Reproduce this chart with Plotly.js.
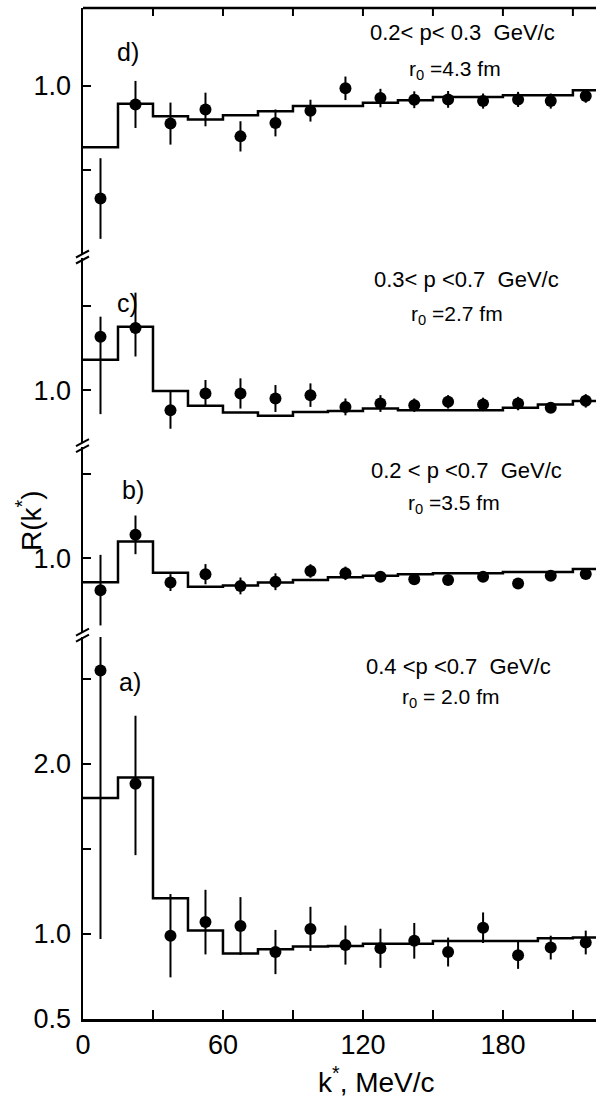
<!DOCTYPE html>
<html>
<head>
<meta charset="utf-8">
<script src="https://cdn.plot.ly/plotly-3.0.1.min.js"></script>
<style>html,body{margin:0;padding:0;background:#fff;}#chart{width:596px;height:1099px;}</style>
</head>
<body>
<div id="chart"></div>
<script>
// ---- data ----
const kCenters = [7.5, 22.5, 37.5, 52.5, 67.5, 82.5, 97.5, 112.5, 127.5, 142, 156.5, 171.5, 186.5, 200.5, 215.5];
const binEdges = [0, 15, 30, 45, 60, 75, 90, 105, 120, 135, 150, 165, 180, 195, 210, 225];

// panel a) 0.4<p<0.7 GeV/c, r0 = 2.0 fm
const histA = [1.80, 1.92, 1.21, 1.02, 0.886, 0.91, 0.926, 0.93, 0.943, 0.943, 0.959, 0.959, 0.959, 0.975, 0.98];
const ptsA  = [2.55, 1.884, 0.99, 1.07, 1.047, 0.894, 1.03, 0.935, 0.916, 0.96, 0.894, 1.037, 0.875, 0.92, 0.95];
const errA_up   = [0.20, 0.40, 0.245, 0.19, 0.17, 0.13, 0.13, 0.115, 0.115, 0.105, 0.085, 0.09, 0.08, 0.07, 0.07];
const errA_down = [1.58, 0.42, 0.245, 0.19, 0.17, 0.13, 0.13, 0.115, 0.115, 0.105, 0.085, 0.09, 0.08, 0.07, 0.07];

// panel b) 0.2<p<0.7 GeV/c, r0 = 3.5 fm
const histB = [0.857, 1.10, 0.914, 0.83, 0.837, 0.855, 0.871, 0.887, 0.896, 0.905, 0.91, 0.91, 0.918, 0.918, 0.936];
const ptsB  = [0.81, 1.139, 0.855, 0.905, 0.835, 0.86, 0.924, 0.91, 0.89, 0.875, 0.87, 0.89, 0.85, 0.895, 0.906];
const errB  = [0.21, 0.115, 0.05, 0.06, 0.05, 0.05, 0.04, 0.04, 0.03, 0.03, 0.02, 0.02, 0.0, 0.02, 0.02];

// panel c) 0.3<p<0.7 GeV/c, r0 = 2.7 fm
const histC = [1.18, 1.377, 0.994, 0.907, 0.867, 0.847, 0.87, 0.875, 0.89, 0.88, 0.88, 0.88, 0.895, 0.915, 0.935];
const ptsC  = [1.317, 1.37, 0.88, 0.98, 0.98, 0.95, 0.97, 0.90, 0.92, 0.91, 0.93, 0.915, 0.92, 0.895, 0.936];
const errC_up   = [0.12, 0.21, 0.11, 0.08, 0.09, 0.08, 0.07, 0.05, 0.05, 0.04, 0.04, 0.04, 0.04, 0.03, 0.04];
const errC_down = [0.46, 0.17, 0.11, 0.08, 0.09, 0.08, 0.07, 0.05, 0.05, 0.04, 0.04, 0.04, 0.04, 0.03, 0.04];

// panel d) 0.2<p<0.3 GeV/c, r0 = 4.3 fm
const histD = [0.635, 0.894, 0.82, 0.80, 0.825, 0.85, 0.88, 0.88, 0.90, 0.915, 0.935, 0.935, 0.945, 0.945, 0.975];
const ptsD  = [0.33, 0.89, 0.776, 0.86, 0.70, 0.78, 0.853, 0.986, 0.928, 0.918, 0.92, 0.91, 0.92, 0.91, 0.94];
const errD  = [0.24, 0.14, 0.125, 0.10, 0.09, 0.08, 0.065, 0.07, 0.055, 0.05, 0.05, 0.045, 0.045, 0.045, 0.04];

const xTickVals = [0, 30, 60, 90, 120, 150, 180, 210];
const xTickText = ['0', '', '60', '', '120', '', '180', ''];

const panelLabels = ['a)', 'b)', 'c)', 'd)'];
const momentumLabels = ['0.4 &lt;p &lt;0.7  GeV/c', '0.2 &lt; p &lt;0.7  GeV/c', '0.3&lt; p &lt;0.7  GeV/c', '0.2&lt; p&lt; 0.3  GeV/c'];
const radiusLabels = ['r<sub>0</sub> = 2.0 fm', 'r<sub>0</sub> =3.5 fm', 'r<sub>0</sub> =2.7 fm', 'r<sub>0</sub> =4.3 fm'];

// ---- build ----
const FONT = 'Liberation Sans, Arial, sans-serif';
const NARROW = 'Liberation Sans Narrow, Arial Narrow, Liberation Sans, sans-serif';
const axNames = ['y', 'y2', 'y3', 'y4'];
const hists = [histA, histB, histC, histD];
const pts = [ptsA, ptsB, ptsC, ptsD];
const errUp = [errA_up, errB, errC_up, errD];
const errDown = [errA_down, errB, errC_down, errD];

const traces = [];
for (let i = 0; i < 4; i++) {
  const h = hists[i];
  traces.push({
    x: binEdges, y: h.concat([h[h.length - 1]]),
    xaxis: 'x', yaxis: axNames[i], type: 'scatter', mode: 'lines',
    line: {shape: 'hv', color: '#000', width: 2.5}, hoverinfo: 'skip', showlegend: false
  });
  traces.push({
    x: kCenters, y: pts[i],
    xaxis: 'x', yaxis: axNames[i], type: 'scatter', mode: 'markers',
    marker: {symbol: 'circle', size: 12, color: '#000'},
    error_y: {type: 'data', symmetric: false, array: errUp[i], arrayminus: errDown[i],
              color: '#000', thickness: 2, width: 0},
    showlegend: false
  });
}

const yBase = {
  showline: true, linecolor: '#000', linewidth: 2.5, ticks: 'inside', ticklen: 8,
  tickwidth: 2, tickcolor: '#000', showgrid: false, zeroline: false, fixedrange: true,
  tickfont: {family: NARROW, size: 27, color: '#000'}, anchor: 'x', ticklabelstandoff: 4
};

const layout = {
  width: 596, height: 1099,
  margin: {l: 83, r: 0, t: 8, b: 80},
  paper_bgcolor: '#fff', plot_bgcolor: '#fff',
  showlegend: false,
  font: {family: FONT, color: '#000'},
  xaxis: {
    range: [0, 219.9], showline: true, linecolor: '#000', linewidth: 2.5,
    ticks: 'inside', ticklen: 9, tickwidth: 2, tickcolor: '#000',
    tickvals: xTickVals, ticktext: xTickText, showgrid: false, zeroline: false,
    tickfont: {family: NARROW, size: 27, color: '#000'}, anchor: 'y', fixedrange: true
  },
  yaxis: Object.assign({}, yBase, {domain: [0, 0.3778], range: [0.5, 2.747],
    tickvals: [0.5, 1.0, 1.5, 2.0, 2.5], ticktext: ['0.5', '1.0', '', '2.0', '']}),
  yaxis2: Object.assign({}, yBase, {domain: [0.3828, 0.5658], range: [0.561, 1.662],
    tickvals: [1.0, 1.5], ticktext: ['1.0', '']}),
  yaxis3: Object.assign({}, yBase, {domain: [0.5697, 0.7527], range: [0.685, 1.786],
    tickvals: [1.0, 1.5], ticktext: ['1.0', '']}),
  yaxis4: Object.assign({}, yBase, {domain: [0.7557, 1], range: [-0.006, 1.464],
    tickvals: [0.5, 1.0], ticktext: ['', '1.0']}),
  shapes: [],
  annotations: []
};

// top frame line with inward ticks
layout.shapes.push({type: 'line', xref: 'paper', yref: 'paper', x0: 0, x1: 1, y0: 1, y1: 1,
  line: {color: '#000', width: 2.5}});
xTickVals.slice(1).forEach(v => {
  layout.shapes.push({type: 'line', xref: 'x', yref: 'paper', ysizemode: 'pixel', yanchor: 1,
    x0: v, x1: v, y0: 0, y1: -8, line: {color: '#000', width: 2}});
});

// axis break marks
[0.3803, 0.5677, 0.7542].forEach(yb => {
  [-3, 3].forEach(off => {
    layout.shapes.push({type: 'line', xref: 'paper', yref: 'paper',
      xsizemode: 'pixel', ysizemode: 'pixel', xanchor: 0, yanchor: yb,
      x0: -7, x1: 6, y0: off - 4, y1: off + 3, line: {color: '#000', width: 2}});
  });
});

// panel texts
const labelPos = [[0.0916, 0.3333], [0.0975, 0.5232], [0.0858, 0.7082], [0.0877, 0.9565]];
const momPos = [[0.7329, 0.3482], [0.7466, 0.5430], [0.7485, 0.7310], [0.7388, 0.9753]];
const radPos = [[0.7173, 0.3180], [0.7232, 0.5090], [0.7290, 0.6968], [0.7251, 0.9390]];
for (let i = 0; i < 4; i++) {
  layout.annotations.push({xref: 'paper', yref: 'paper', x: labelPos[i][0], y: labelPos[i][1],
    text: panelLabels[i], showarrow: false, xanchor: 'center', yanchor: 'middle',
    font: {family: FONT, size: 25, color: '#000'}});
  layout.annotations.push({xref: 'paper', yref: 'paper', x: momPos[i][0], y: momPos[i][1],
    text: momentumLabels[i], showarrow: false, xanchor: 'center', yanchor: 'middle',
    font: {family: FONT, size: 22, color: '#000'}});
  layout.annotations.push({xref: 'paper', yref: 'paper', x: radPos[i][0], y: radPos[i][1],
    text: radiusLabels[i], showarrow: false, xanchor: 'center', yanchor: 'middle',
    font: {family: FONT, size: 21, color: '#000'}});
}

// axis titles
layout.annotations.push({xref: 'paper', yref: 'paper', x: 0.573, y: -0.0603,
  text: 'k<sup>*</sup>, MeV/c', showarrow: false, xanchor: 'center', yanchor: 'middle',
  font: {family: FONT, size: 28, color: '#000'}});
layout.annotations.push({xref: 'paper', yref: 'paper', x: -0.1053, y: 0.4936,
  text: 'R(k<sup>*</sup>)', showarrow: false, xanchor: 'center', yanchor: 'middle', textangle: -90,
  font: {family: FONT, size: 28, color: '#000'}});

Plotly.newPlot('chart', traces, layout, {displayModeBar: false, staticPlot: true});
</script>
</body>
</html>
